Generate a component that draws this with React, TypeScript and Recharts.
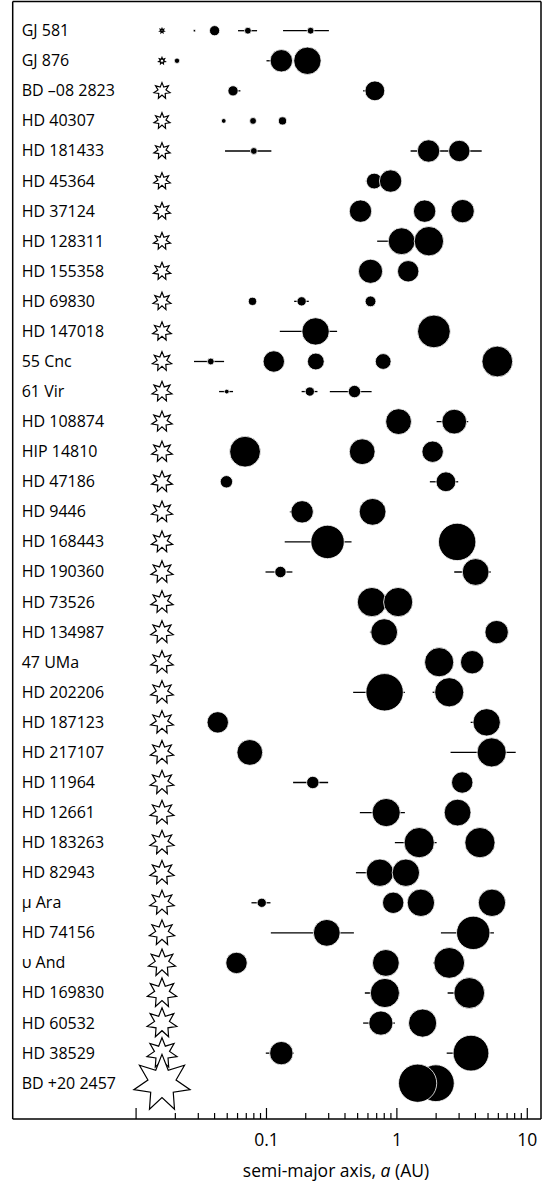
import React from 'react';
import { ScatterChart, Scatter, XAxis, YAxis, ErrorBar } from 'recharts';

const FONT = "'Open Sans', 'Noto Sans', sans-serif";

// Row labels (top to bottom)
const SYSTEMS = [
  'GJ 581', 'GJ 876', 'BD \u201308 2823', 'HD 40307', 'HD 181433', 'HD 45364',
  'HD 37124', 'HD 128311', 'HD 155358', 'HD 69830', 'HD 147018', '55 Cnc',
  '61 Vir', 'HD 108874', 'HIP 14810', 'HD 47186', 'HD 9446', 'HD 168443',
  'HD 190360', 'HD 73526', 'HD 134987', '47 UMa', 'HD 202206', 'HD 187123',
  'HD 217107', 'HD 11964', 'HD 12661', 'HD 183263', 'HD 82943', '\u03bc Ara',
  'HD 74156', '\u03c5 And', 'HD 169830', 'HD 60532', 'HD 38529', 'BD +20 2457',
];

// Stellar masses (solar masses), same order as SYSTEMS
const STAR_MASS = [
  0.22, 0.33, 0.8, 0.8, 0.81, 0.82,
  0.84, 0.85, 0.87, 0.89, 0.93, 0.96,
  1.0, 1.02, 1.03, 1.04, 1.05, 1.06,
  1.1, 1.11, 1.12, 1.12, 1.13, 1.14,
  1.16, 1.18, 1.19, 1.2, 1.2, 1.22,
  1.26, 1.35, 1.46, 1.48, 1.5, 2.8,
];

// column where the host stars are drawn (AU)
const STAR_COLUMN_A = 0.0158;

// planets: [a (AU), mass (M_Jup), a_low, a_high]
type P = [number, number, number?, number?];
const P_GJ581: P[] = [[0.028, 0.0058], [0.040, 0.035], [0.072, 0.016, 0.0605, 0.0847], [0.218, 0.016, 0.134, 0.301]];
const P_GJ876: P[] = [[0.0206, 0.0115], [0.130, 0.58, 0.100, 0.130], [0.206, 1.83]];
const P_BD082823: P[] = [[0.0554, 0.035, 0.0507, 0.0631], [0.678, 0.32, 0.551, 0.678]];
const P_HD40307: P[] = [[0.047, 0.010], [0.0789, 0.016], [0.1327, 0.022]];
const P_HD181433: P[] = [[0.080, 0.016, 0.0481, 0.109], [1.75, 0.58, 1.274, 2.3], [3.01, 0.46, 2.3, 4.47]];
const P_HD45364: P[] = [[0.670, 0.126, 0.578, 0.670], [0.895, 0.58]];
const P_HD37124: P[] = [[0.526, 0.58], [1.632, 0.58], [3.19, 0.73, 2.60, 3.19]];
const P_HD128311: P[] = [[1.087, 1.6, 0.706, 1.087], [1.76, 2.9]];
const P_HD155358: P[] = [[0.628, 0.88], [1.221, 0.46]];
const P_HD69830: P[] = [[0.0781, 0.022, 0.073, 0.084], [0.186, 0.028, 0.163, 0.211], [0.628, 0.040]];
const P_HD147018: P[] = [[0.238, 1.83, 0.1265, 0.348], [1.923, 6.3]];
const P_55CNC: P[] = [[0.0374, 0.016, 0.0278, 0.0473], [0.1138, 0.46], [0.239, 0.16], [0.785, 0.126], [5.89, 4.0]];
const P_61VIR: P[] = [[0.0496, 0.010, 0.0433, 0.0554], [0.215, 0.028, 0.186, 0.246], [0.473, 0.058, 0.306, 0.64]];
const P_HD108874: P[] = [[1.030, 1.26], [2.753, 1.0, 2.017, 3.525]];
const P_HIP14810: P[] = [[0.0685, 4.0], [0.542, 1.26], [1.88, 0.46]];
const P_HD47186: P[] = [[0.0493, 0.058], [2.377, 0.32, 1.79, 2.953]];
const P_HD9446: P[] = [[0.1876, 0.58, 0.151, 0.1876], [0.651, 1.6]];
const P_HD168443: P[] = [[0.294, 7.3, 0.138, 0.449], [2.90, 18.3]];
const P_HD190360: P[] = [[0.128, 0.046, 0.0983, 0.158], [4.018, 1.6, 2.753, 5.24]];
const P_HD73526: P[] = [[0.643, 2.77], [1.023, 2.77]];
const P_HD134987: P[] = [[0.799, 1.6, 0.621, 0.799], [5.82, 0.73]];
const P_47UMA: P[] = [[2.11, 2.77], [3.78, 0.73]];
const P_HD202206: P[] = [[0.805, 18.3, 0.462, 1.152], [2.52, 2.77, 1.88, 2.52]];
const P_HD187123: P[] = [[0.0423, 0.46], [4.88, 1.83, 3.68, 4.88]];
const P_HD217107: P[] = [[0.0745, 1.26], [5.33, 2.77, 2.58, 8.15]];
const P_HD11964: P[] = [[0.2266, 0.058, 0.16, 0.297], [3.17, 0.46]];
const P_HD12661: P[] = [[0.828, 2.2, 0.52, 1.152], [2.92, 1.6]];
const P_HD183263: P[] = [[1.483, 3.5, 0.965, 2.017], [4.335, 3.5]];
const P_HD82943: P[] = [[0.741, 1.83, 0.485, 0.741], [1.172, 1.83]];
const P_MUARA: P[] = [[0.092, 0.028, 0.0767, 0.1073], [0.937, 0.46], [1.528, 1.83], [5.36, 1.83]];
const P_HD74156: P[] = [[0.290, 1.6, 0.108, 0.468], [3.85, 7.3, 2.176, 5.55]];
const P_UPSAND: P[] = [[0.0589, 0.46], [0.823, 1.6, 0.651, 0.823], [2.52, 4.0, 1.90, 2.52]];
const P_HD169830: P[] = [[0.809, 2.77, 0.568, 1.054], [3.59, 4.0, 2.45, 4.73]];
const P_HD60532: P[] = [[0.754, 0.88, 0.551, 0.965], [1.575, 2.2]];
const P_HD38529: P[] = [[0.130, 0.73, 0.0988, 0.162], [3.70, 12.6, 2.41, 3.70]];
const P_BD202457: P[] = [[1.99, 15.9], [1.442, 22]];

const SYSTEM_PLANETS: P[][] = [
  P_GJ581, P_GJ876, P_BD082823, P_HD40307, P_HD181433, P_HD45364,
  P_HD37124, P_HD128311, P_HD155358, P_HD69830, P_HD147018, P_55CNC,
  P_61VIR, P_HD108874, P_HIP14810, P_HD47186, P_HD9446, P_HD168443,
  P_HD190360, P_HD73526, P_HD134987, P_47UMA, P_HD202206, P_HD187123,
  P_HD217107, P_HD11964, P_HD12661, P_HD183263, P_HD82943, P_MUARA,
  P_HD74156, P_UPSAND, P_HD169830, P_HD60532, P_HD38529, P_BD202457,
];

// axis ticks
const X_TICKS = [
  0.01, 0.02, 0.03, 0.04, 0.05, 0.06, 0.07, 0.08, 0.09,
  0.1, 0.2, 0.3, 0.4, 0.5, 0.6, 0.7, 0.8, 0.9,
  1, 2, 3, 4, 5, 6, 7, 8, 9, 10,
];
const MAJOR_TICKS = [0.01, 0.1, 1, 10];
const LABELED_TICKS = [0.1, 1, 10];
const X_DOMAIN: [number, number] = [0.001132, 12.74];
const Y_DOMAIN: [number, number] = [-0.971, 36.19];

const planetData = SYSTEM_PLANETS.flatMap((list, row) =>
  list.map(([a, m, lo, hi]) => ({
    row,
    a,
    m,
    err: lo !== undefined && hi !== undefined ? [a - lo, hi - a] : undefined,
  }))
);
const starData = STAR_MASS.map((m, row) => ({ row, a: STAR_COLUMN_A, m }));

function planetRadius(m: number) {
  return Math.max(0.8, 5 * Math.log10(m / 0.004));
}

function PlanetShape(props: any) {
  const { cx, cy, payload } = props;
  const r = planetRadius(payload.m);
  return <circle cx={cx} cy={cy} r={r + 0.4} fill="#000" stroke="#fff" strokeWidth={0.8} />;
}

function StarShape(props: any) {
  const { cx, cy, payload } = props;
  const R = 10.3 * payload.m;
  const rIn = R * 0.5;
  const pts: string[] = [];
  for (let i = 0; i < 14; i++) {
    const ang = (Math.PI * i) / 7 - Math.PI / 2;
    const rad = i % 2 === 0 ? R : rIn;
    pts.push(`${(cx + rad * Math.cos(ang)).toFixed(2)},${(cy + rad * Math.sin(ang)).toFixed(2)}`);
  }
  return <polygon points={pts.join(' ')} fill="#fff" stroke="#000" strokeWidth={1.2} strokeLinejoin="miter" />;
}

function XTick(props: any) {
  const { x, y, payload } = props;
  const v = payload.value;
  const major = MAJOR_TICKS.includes(v);
  const labeled = LABELED_TICKS.includes(v);
  return (
    <g>
      <line x1={x} x2={x} y1={y} y2={y - (major ? 11 : 6)} stroke="#000" strokeWidth={1.2} />
      {labeled && (
        <text x={x} y={y + 27} textAnchor="middle" fontSize={17.5} fontFamily={FONT} fill="#000">
          {String(v)}
        </text>
      )}
    </g>
  );
}

function YTick(props: any) {
  const { x, y, payload } = props;
  return (
    <text x={x + 9} y={y + 5.5} textAnchor="start" fontSize={16} fontFamily={FONT} fill="#000">
      {SYSTEMS[payload.value]}
    </text>
  );
}

function AxisTitle(props: any) {
  const { viewBox } = props;
  const { x, y, width } = viewBox;
  return (
    <text x={x + width * 0.612} y={y + 57.5} textAnchor="middle" fontSize={17.5} fontFamily={FONT} fill="#000">
      semi-major axis, <tspan fontStyle="italic">a</tspan> (AU)
    </text>
  );
}

export default function App() {
  return (
    <div style={{ position: 'absolute', left: 0, top: 0, width: 556, height: 1185, background: '#fff' }}>
      <ScatterChart width={556} height={1185} margin={{ top: 0.5, right: 14, bottom: 65, left: 11.7 }}>
        <XAxis
          xAxisId={0}
          type="number"
          dataKey="a"
          scale="log"
          domain={X_DOMAIN}
          allowDataOverflow
          ticks={X_TICKS}
          interval={0}
          height={1}
          tickSize={0}
          tickMargin={0}
          tickLine={false}
          tick={<XTick />}
          axisLine={{ stroke: '#000', strokeWidth: 1.5 }}
          label={<AxisTitle />}
        />
        <XAxis
          xAxisId="top"
          orientation="top"
          type="number"
          domain={[0, 1]}
          ticks={[0, 1]}
          height={1}
          tick={false}
          tickLine={false}
          axisLine={{ stroke: '#000', strokeWidth: 1.5 }}
        />
        <YAxis
          yAxisId={0}
          type="number"
          dataKey="row"
          domain={Y_DOMAIN}
          allowDataOverflow
          reversed
          ticks={SYSTEMS.map((_, i) => i)}
          interval={0}
          width={1}
          tickSize={0}
          tickMargin={0}
          tickLine={false}
          tick={<YTick />}
          axisLine={{ stroke: '#000', strokeWidth: 1.5 }}
        />
        <YAxis
          yAxisId="right"
          orientation="right"
          type="number"
          domain={[0, 1]}
          ticks={[0, 1]}
          width={1}
          tick={false}
          tickLine={false}
          axisLine={{ stroke: '#000', strokeWidth: 1.5 }}
        />
        <Scatter data={starData} xAxisId={0} yAxisId={0} shape={<StarShape />} isAnimationActive={false} />
        <Scatter data={planetData} xAxisId={0} yAxisId={0} shape={<PlanetShape />} isAnimationActive={false}>
          <ErrorBar dataKey="err" direction="x" width={0} stroke="#000" strokeWidth={1.3} isAnimationActive={false} />
        </Scatter>
      </ScatterChart>
    </div>
  );
}
